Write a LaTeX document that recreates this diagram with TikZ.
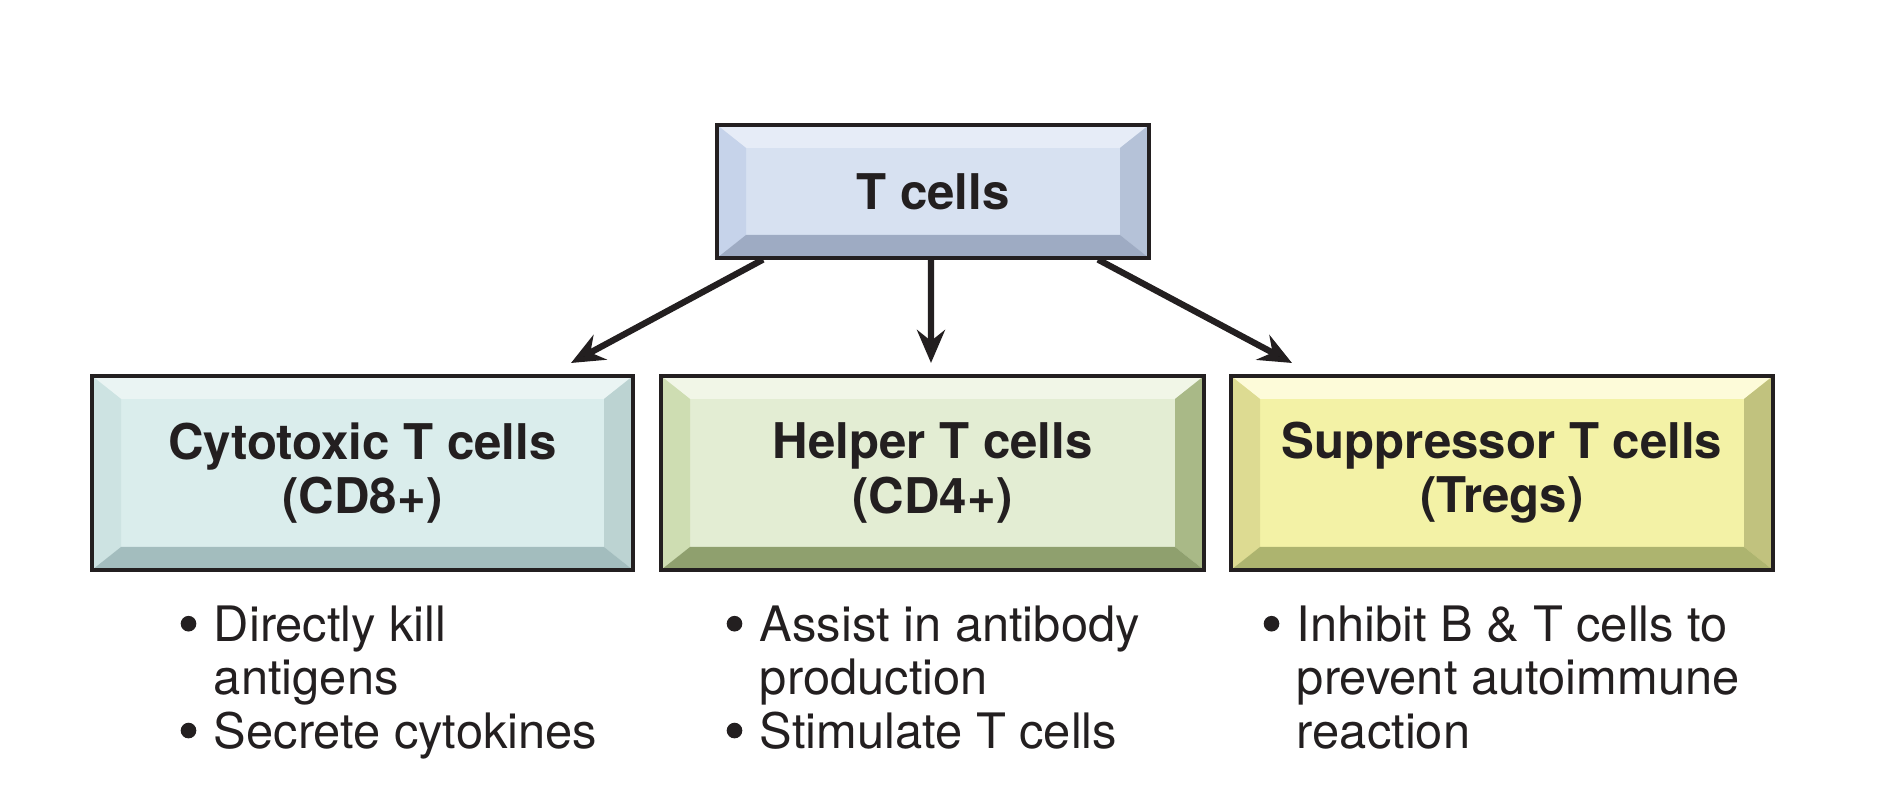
\documentclass[tikz,border=0pt]{standalone}
\usepackage{fontspec}
\setmainfont{TeX Gyre Heros}
\usepackage{tikz}
\usetikzlibrary{arrows.meta}

\definecolor{ink}{HTML}{231F20}
% T cells (blue)
\definecolor{tFace}{HTML}{D7E1F1}
\definecolor{tTop}{HTML}{E6ECF7}
\definecolor{tLeft}{HTML}{C6D3EA}
\definecolor{tRight}{HTML}{B5C2D8}
\definecolor{tBot}{HTML}{9EABC3}
% cytotoxic (teal)
\definecolor{cFace}{HTML}{DAEDEC}
\definecolor{cTop}{HTML}{EAF4F3}
\definecolor{cLeft}{HTML}{CDE3E2}
\definecolor{cRight}{HTML}{BCD3D2}
\definecolor{cBot}{HTML}{A3BDBE}
% helper (green)
\definecolor{hFace}{HTML}{E3EDD3}
\definecolor{hTop}{HTML}{F1F6E7}
\definecolor{hLeft}{HTML}{CEDDB2}
\definecolor{hRight}{HTML}{A9B987}
\definecolor{hBot}{HTML}{8FA06E}
% suppressor (yellow)
\definecolor{sFace}{HTML}{F3F2A6}
\definecolor{sTop}{HTML}{FDFBD9}
\definecolor{sLeft}{HTML}{DDDB92}
\definecolor{sRight}{HTML}{C1C27E}
\definecolor{sBot}{HTML}{ADB46F}

\newcommand{\bevx}{2.9mm}
\newcommand{\bevy}{2.3mm}
\newcommand{\bul}{\makebox[0.68em][l]{\tikz[baseline=0pt]\fill[ink] (0.16em,0.36em) circle (0.16em);}}
\newcommand{\ind}{\hspace*{0.68em}}

\tikzset{
  bevel/.style n args={4}{path picture={
    \coordinate (pnw) at (path picture bounding box.north west);
    \coordinate (pne) at (path picture bounding box.north east);
    \coordinate (psw) at (path picture bounding box.south west);
    \coordinate (pse) at (path picture bounding box.south east);
    \coordinate (qnw) at ([shift={(\bevx,-\bevy)}]pnw);
    \coordinate (qne) at ([shift={(-\bevx,-\bevy)}]pne);
    \coordinate (qsw) at ([shift={(\bevx,\bevy)}]psw);
    \coordinate (qse) at ([shift={(-\bevx,\bevy)}]pse);
    \fill[#1] (pnw) -- (pne) -- (qne) -- (qnw) -- cycle;
    \fill[#2] (pnw) -- (qnw) -- (qsw) -- (psw) -- cycle;
    \fill[#3] (pne) -- (pse) -- (qse) -- (qne) -- cycle;
    \fill[#4] (psw) -- (pse) -- (qse) -- (qsw) -- cycle;
  }},
  cellbox/.style={draw=ink, line width=0.9pt, inner sep=0pt, align=center, text=ink,
    font=\fontsize{14}{15.4}\selectfont\bfseries},
  bullets/.style={anchor=north west, inner sep=0pt, align=left, text=ink,
    font=\fontsize{13.9}{15.2}\selectfont},
  arr/.style={draw=ink, line width=1.8pt, -{Stealth[length=3.3mm, width=2.8mm, inset=1.1mm]}},
}

\begin{document}
\begin{tikzpicture}

\useasboundingbox (0,0) rectangle (18.98,7.92);

% top box

\node[cellbox, fill=tFace, bevel={tTop}{tLeft}{tRight}{tBot},
      minimum width=4.32cm, minimum height=1.33cm] (tcell) at (9.33, 6.005) {T cells};

% lower boxes

\node[cellbox, fill=cFace, bevel={cTop}{cLeft}{cRight}{cBot},
      minimum width=5.41cm, minimum height=1.94cm] (cyto) at (3.625, 3.19) {Cytotoxic T cells\\(CD8+)};
\node[cellbox, fill=hFace, bevel={hTop}{hLeft}{hRight}{hBot},
      minimum width=5.43cm, minimum height=1.94cm] (helper) at (9.325, 3.19) {Helper T cells\\(CD4+)};
\node[cellbox, fill=sFace, bevel={sTop}{sLeft}{sRight}{sBot},
      minimum width=5.42cm, minimum height=1.94cm] (supp) at (15.02, 3.19) {Suppressor T cells\\(Tregs)};

% bullet lists

\node[bullets] (cytolist) at (1.80, 1.87) {\bul Directly kill\\\ind antigens\\\bul Secrete cytokines};
\node[bullets] (helperlist) at (7.26, 1.87) {\bul Assist in antibody\\\ind production\\\bul Stimulate T cells};
\node[bullets] (supplist) at (12.63, 1.87) {\bul Inhibit B \& T cells to\\\ind prevent autoimmune\\\ind reaction};

% arrows

\coordinate (cytoend) at (5.71, 4.29);
\coordinate (helperend) at (9.31, 4.29);
\coordinate (suppend) at (12.92, 4.29);

\draw[arr] ([xshift=-17mm]tcell.south) -- (cytoend);
\draw[arr] ([xshift=-0.2mm]tcell.south) -- (helperend);
\draw[arr] ([xshift=16.5mm]tcell.south) -- (suppend);

\end{tikzpicture}
\end{document}
